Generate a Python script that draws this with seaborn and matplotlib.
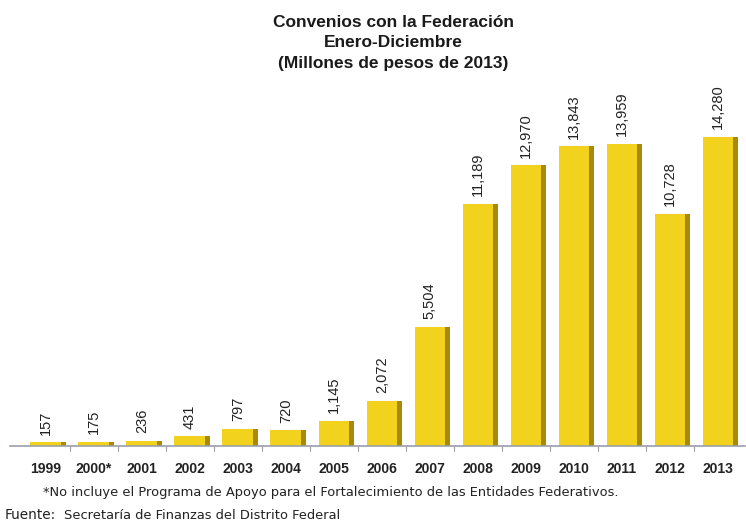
import matplotlib
matplotlib.use("Agg")
import matplotlib.pyplot as plt
import seaborn as sns
import pandas as pd
import numpy as np

years = ["1999", "2000*", "2001", "2002", "2003", "2004", "2005", "2006",
         "2007", "2008", "2009", "2010", "2011", "2012", "2013"]
values = [157, 175, 236, 431, 797, 720, 1145, 2072,
          5504, 11189, 12970, 13843, 13959, 10728, 14280]

title_lines = ["Convenios con la Federación", "Enero-Diciembre",
               "(Millones de pesos de 2013)"]
note = "*No incluye el Programa de Apoyo para el Fortalecimiento de las Entidades Federativos."
source_label = "Fuente:"
source_text = "Secretaría de Finanzas del Distrito Federal"

sns.set_theme(style="white")
plt.rcParams["font.family"] = ["Liberation Sans", "DejaVu Sans"]

df = pd.DataFrame({"year": years, "value": values})

fig = plt.figure(figsize=(7.46, 5.22), dpi=100)
ax = fig.add_axes([0.013, 0.146, 0.985, 0.70])

width = 0.64
xs = np.arange(len(years))
# darker side face for a raised look
ax.bar(xs + width / 2 + 0.04, df["value"], width=0.12, color="#A88A08",
       zorder=1, linewidth=0)
sns.barplot(data=df, x="year", y="value", color="#F2D21C", width=width,
            saturation=1, ax=ax, zorder=2, linewidth=0)

for x, v in zip(xs, values):
    ax.text(x, v + 350, f"{v:,}", rotation=90, ha="center", va="bottom",
            fontsize=10.5, color="#222222")

ax.set_ylim(0, 16900)
ax.set_xlim(-0.75, len(years) - 0.45)
ax.set_xlabel("")
ax.set_ylabel("")
ax.set_yticks([])
ax.set_xticks(xs)
ax.set_xticklabels(years, fontsize=10, color="#222222", fontweight="bold")
ax.tick_params(axis="x", length=0, pad=12)
for s in ["top", "right", "left"]:
    ax.spines[s].set_visible(False)
ax.spines["bottom"].set_color("#9AA0AA")
ax.spines["bottom"].set_linewidth(1.2)
# small separators under the axis line
for b in xs[:-1] + 0.5:
    ax.plot([b, b], [0, -220], color="#9AA0AA", lw=0.8, clip_on=False)

for i, line in enumerate(title_lines):
    fig.text(0.527, 0.957 - i * 0.039, line, ha="center", va="center",
             fontsize=12.5, fontweight="bold", color="#1a1a1a")

fig.text(0.058, 0.056, note, ha="left", va="center", fontsize=9.4,
         color="#222222", family="DejaVu Sans")
fig.text(0.006, 0.013, source_label, ha="left", va="center", fontsize=9.8,
         color="#222222", family="DejaVu Sans")
fig.text(0.086, 0.013, source_text, ha="left", va="center", fontsize=9.4,
         color="#222222", family="DejaVu Sans")

fig.savefig("out.png", dpi=100, facecolor="white")
